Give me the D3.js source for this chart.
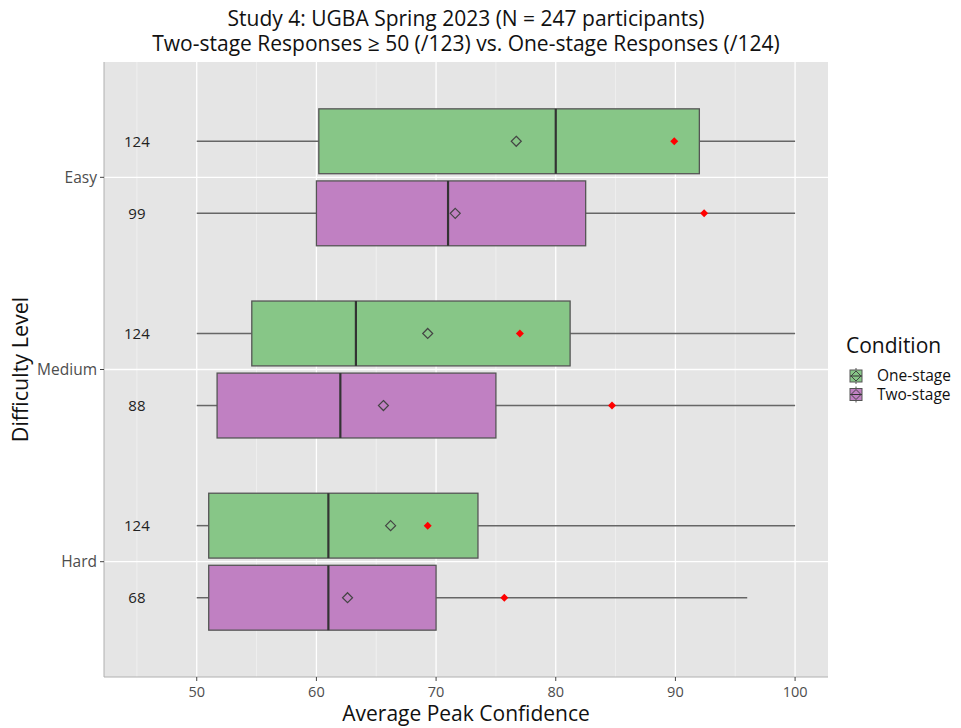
<!DOCTYPE html>
<html><head><meta charset="utf-8">
<script src="https://cdn.jsdelivr.net/npm/d3@7"></script>
<style>body{margin:0;background:#fff}svg{display:block;font-family:"Open Sans",sans-serif}</style>
</head><body><svg id="c" width="961" height="728"></svg>
<script>
const categories = ["Easy","Medium","Hard"];
const conditions = ["One-stage","Two-stage"];
const xTicks = [50,60,70,80,90,100];
const countsOne = [124,124,124];
const countsTwo = [99,88,68];
const lowOne = [50,50,50], q1One = [60.2,54.6,51.0], medOne = [80.0,63.3,61.0], q3One = [92.0,81.2,73.5], highOne = [100,100,100];
const meanOne = [76.7,69.3,66.2], redOne = [89.9,77.0,69.3];
const lowTwo = [50,50,50], q1Two = [60.0,51.7,51.0], medTwo = [71.0,62.0,61.0], q3Two = [82.5,75.0,70.0], highTwo = [100,100,96];
const meanTwo = [71.6,65.6,62.6], redTwo = [92.4,84.7,75.7];
const labelX = 45;
const fills = {"One-stage":"#87c687","Two-stage":"#c080c2"};

const svg = d3.select("#c");
const L=104,R=828,T=62,B=677;
const x = d3.scaleLinear().domain([42.25,102.75]).range([L,R]);
const y = d3.scalePoint().domain(categories).range([T,B]).padding(0.6);
const step = y.step();
const dodge = d3.scaleOrdinal().domain(conditions).range([-0.1875*step, 0.1875*step]);
const halfH = 0.16875*step;

svg.append("rect").attr("x",L).attr("y",T).attr("width",R-L).attr("height",B-T).attr("fill","#e5e5e5");
const minor = d3.range(45,105,10);
svg.append("g").selectAll("line").data(minor).join("line")
 .attr("x1",d=>x(d)).attr("x2",d=>x(d)).attr("y1",T).attr("y2",B).attr("stroke","#f2f2f2").attr("stroke-width",0.8);
svg.append("g").selectAll("line").data(xTicks).join("line")
 .attr("x1",d=>x(d)).attr("x2",d=>x(d)).attr("y1",T).attr("y2",B).attr("stroke","#fff").attr("stroke-width",1.3);
svg.append("g").selectAll("line").data(categories).join("line")
 .attr("x1",L).attr("x2",R).attr("y1",d=>y(d)).attr("y2",d=>y(d)).attr("stroke","#fff").attr("stroke-width",1.3);

const rows = [];
categories.forEach((c,i)=>{
  rows.push({cat:c,cond:"One-stage",n:countsOne[i],lo:lowOne[i],q1:q1One[i],med:medOne[i],q3:q3One[i],hi:highOne[i],mean:meanOne[i],red:redOne[i]});
  rows.push({cat:c,cond:"Two-stage",n:countsTwo[i],lo:lowTwo[i],q1:q1Two[i],med:medTwo[i],q3:q3Two[i],hi:highTwo[i],mean:meanTwo[i],red:redTwo[i]});
});
const cy = d=>y(d.cat)+dodge(d.cond);
const g = svg.append("g");
g.selectAll(".wl").data(rows).join("line").attr("x1",d=>x(d.lo)).attr("x2",d=>x(d.q1)).attr("y1",cy).attr("y2",cy).attr("stroke","#666").attr("stroke-width",1.5);
g.selectAll(".wh").data(rows).join("line").attr("x1",d=>x(d.q3)).attr("x2",d=>x(d.hi)).attr("y1",cy).attr("y2",cy).attr("stroke","#666").attr("stroke-width",1.5);
g.selectAll(".bx").data(rows).join("rect").attr("x",d=>x(d.q1)).attr("width",d=>x(d.q3)-x(d.q1)).attr("y",d=>cy(d)-halfH).attr("height",2*halfH)
 .attr("fill",d=>fills[d.cond]).attr("stroke","#555").attr("stroke-width",1.3);
g.selectAll(".md").data(rows).join("line").attr("x1",d=>x(d.med)).attr("x2",d=>x(d.med)).attr("y1",d=>cy(d)-halfH).attr("y2",d=>cy(d)+halfH).attr("stroke","#333").attr("stroke-width",2.2);
const diamond = s=>`M0,${-s}L${s},0L0,${s}L${-s},0Z`;
g.selectAll(".mn").data(rows).join("path").attr("d",diamond(5)).attr("transform",d=>`translate(${x(d.mean)},${cy(d)})`)
 .attr("fill","none").attr("stroke","#444").attr("stroke-width",1.2);
g.selectAll(".rd").data(rows).join("path").attr("d",diamond(4)).attr("transform",d=>`translate(${x(d.red)},${cy(d)})`)
 .attr("fill","#ff0000");
g.selectAll(".nt").data(rows).join("text").attr("x",x(labelX)).attr("y",cy).attr("dy","0.35em").attr("text-anchor","middle")
 .attr("font-size",15).attr("fill","#222").text(d=>d.n);

// axes
svg.append("line").attr("x1",L).attr("x2",L).attr("y1",T).attr("y2",B).attr("stroke","#b0b0b0");
svg.append("line").attr("x1",L).attr("x2",R).attr("y1",B).attr("y2",B).attr("stroke","#b0b0b0");
const xa = svg.append("g");
xa.selectAll("line").data(xTicks).join("line").attr("x1",d=>x(d)).attr("x2",d=>x(d)).attr("y1",B).attr("y2",B+4).attr("stroke","#444");
xa.selectAll("text").data(xTicks).join("text").attr("x",d=>x(d)).attr("y",B+20).attr("text-anchor","middle").attr("font-size",14.5).attr("fill","#4d4d4d").text(d=>d);
const ya = svg.append("g");
ya.selectAll("line").data(categories).join("line").attr("x1",L-4).attr("x2",L).attr("y1",d=>y(d)).attr("y2",d=>y(d)).attr("stroke","#444");
ya.selectAll("text").data(categories).join("text").attr("x",L-7).attr("y",d=>y(d)).attr("dy","0.35em").attr("text-anchor","end").attr("font-size",15.5).attr("fill","#4d4d4d").text(d=>d);

svg.append("text").attr("x",(L+R)/2).attr("y",721).attr("text-anchor","middle").attr("font-size",21).attr("fill","#111").text("Average Peak Confidence");
svg.append("text").attr("transform",`translate(28,${(T+B)/2}) rotate(-90)`).attr("text-anchor","middle").attr("font-size",21.5).attr("fill","#111").text("Difficulty Level");
svg.append("text").attr("x",(L+R)/2).attr("y",26).attr("text-anchor","middle").attr("font-size",21).attr("fill","#111").text("Study 4: UGBA Spring 2023 (N = 247 participants)");
svg.append("text").attr("x",(L+R)/2).attr("y",51).attr("text-anchor","middle").attr("font-size",21).attr("fill","#111").text("Two-stage Responses ≥ 50 (/123) vs. One-stage Responses (/124)");

// legend
const lg = svg.append("g").attr("transform","translate(846,0)");
lg.append("text").attr("x",0).attr("y",353).attr("font-size",21).attr("fill","#111").text("Condition");
conditions.forEach((c,i)=>{
  const ky = 376 + i*18.5;
  const k = lg.append("g").attr("transform",`translate(10,${ky})`);
  k.append("line").attr("x1",0).attr("x2",0).attr("y1",-8).attr("y2",8).attr("stroke","#555");
  k.append("rect").attr("x",-6).attr("y",-6).attr("width",12).attr("height",12).attr("fill",fills[c]).attr("stroke","#555");
  k.append("line").attr("x1",-6).attr("x2",6).attr("y1",0).attr("y2",0).attr("stroke","#333");
  k.append("path").attr("d",diamond(5)).attr("fill","none").attr("stroke","#444");
  lg.append("text").attr("x",31).attr("y",ky).attr("dy","0.35em").attr("font-size",15.5).attr("fill","#111").text(c);
});
</script></body></html>
